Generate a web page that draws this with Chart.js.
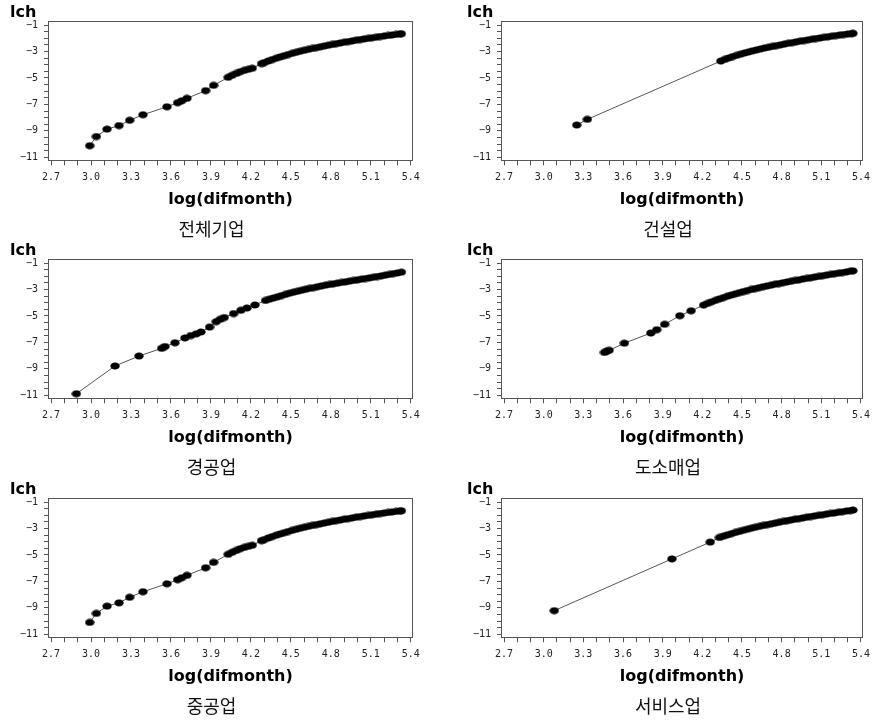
<!DOCTYPE html>
<html><head><meta charset="utf-8">
<script src="https://cdn.jsdelivr.net/npm/chart.js@4.4.1/dist/chart.umd.min.js"></script>
<style>
html,body{margin:0;padding:0;background:#fff;width:876px;height:720px;overflow:hidden;}
canvas{position:absolute;}
</style></head><body>
<canvas id="c0" width="430" height="240" style="left:0px;top:0px"></canvas>
<canvas id="c1" width="427" height="240" style="left:449px;top:0px"></canvas>
<canvas id="c2" width="430" height="240" style="left:0px;top:238px"></canvas>
<canvas id="c3" width="427" height="240" style="left:449px;top:238px"></canvas>
<canvas id="c4" width="430" height="240" style="left:0px;top:477px"></canvas>
<canvas id="c5" width="427" height="240" style="left:449px;top:477px"></canvas>
<script>
// ---------- data ----------
const captions = ['전체기업', '건설업', '경공업', '도소매업', '중공업', '서비스업'];
const xTitle = 'log(difmonth)';
const yTitle = 'lch';
const xTickLabels = ['2.7', '3.0', '3.3', '3.6', '3.9', '4.2', '4.5', '4.8', '5.1', '5.4'];
const yTickLabels = [-1, -3, -5, -7, -9, -11];

// 전체기업 (all firms)
const xAll = [2.99, 3.04, 3.12, 3.21, 3.29, 3.39, 3.57, 3.65, 3.68, 3.72, 3.86, 3.92, 4.03, 4.06, 4.09, 4.12, 4.15, 4.18, 4.21, 4.28,
  4.30, 4.33, 4.36, 4.39, 4.42, 4.45, 4.48, 4.51, 4.54, 4.57, 4.60, 4.63, 4.66, 4.69, 4.72, 4.75, 4.78, 4.81, 4.84, 4.87,
  4.90, 4.93, 4.96, 4.99, 5.02, 5.05, 5.08, 5.11, 5.14, 5.17, 5.20, 5.23, 5.26, 5.29, 5.32, 5.33];
const yAll = [-10.12, -9.43, -8.87, -8.60, -8.20, -7.78, -7.18, -6.87, -6.73, -6.54, -5.96, -5.56, -4.95, -4.80, -4.66, -4.53, -4.43, -4.35, -4.27, -3.92,
  -3.84, -3.72, -3.61, -3.51, -3.41, -3.32, -3.23, -3.14, -3.06, -2.98, -2.91, -2.84, -2.77, -2.71, -2.65, -2.59, -2.53, -2.47, -2.41, -2.36,
  -2.30, -2.25, -2.20, -2.15, -2.10, -2.05, -2.01, -1.96, -1.92, -1.87, -1.83, -1.79, -1.75, -1.71, -1.67, -1.66];

// 건설업 (construction)
const xCons = [3.25, 3.33,
  4.34, 4.37, 4.40, 4.43, 4.46, 4.49, 4.52, 4.55, 4.58, 4.61, 4.64, 4.67, 4.70, 4.73, 4.76, 4.79, 4.82, 4.85, 4.88,
  4.91, 4.94, 4.97, 5.00, 5.03, 5.06, 5.09, 5.12, 5.15, 5.18, 5.21, 5.24, 5.27, 5.30, 5.33, 5.34];
const yCons = [-8.56, -8.13,
  -3.72, -3.60, -3.49, -3.38, -3.29, -3.20, -3.11, -3.03, -2.95, -2.88, -2.81, -2.74, -2.68, -2.62, -2.56, -2.50, -2.44, -2.38, -2.33,
  -2.27, -2.22, -2.17, -2.12, -2.07, -2.02, -1.98, -1.93, -1.89, -1.84, -1.80, -1.76, -1.72, -1.68, -1.64, -1.63];

// 경공업 (light industry)
const xLight = [2.89, 3.18, 3.36, 3.53, 3.555, 3.63, 3.705, 3.75, 3.79, 3.825, 3.89, 3.94, 3.97, 4.00, 4.07, 4.125, 4.17, 4.23,
  4.31, 4.34, 4.37, 4.40, 4.43, 4.46, 4.49, 4.52, 4.55, 4.58, 4.61, 4.64, 4.67, 4.70, 4.73, 4.76, 4.79, 4.82, 4.85, 4.88,
  4.91, 4.94, 4.97, 5.00, 5.03, 5.06, 5.09, 5.12, 5.15, 5.18, 5.21, 5.24, 5.27, 5.30, 5.33];
const yLight = [-10.88, -8.78, -8.03, -7.45, -7.31, -7.03, -6.66, -6.48, -6.35, -6.21, -5.84, -5.43, -5.25, -5.12, -4.82, -4.57, -4.40, -4.17,
  -3.83, -3.73, -3.64, -3.55, -3.46, -3.37, -3.28, -3.20, -3.13, -3.06, -2.99, -2.92, -2.86, -2.79, -2.73, -2.67, -2.62, -2.57, -2.52, -2.47,
  -2.42, -2.37, -2.32, -2.27, -2.22, -2.17, -2.12, -2.07, -2.02, -1.97, -1.91, -1.86, -1.80, -1.75, -1.69];

// 도소매업 (wholesale & retail)
const xTrade = [3.46, 3.475, 3.495, 3.61, 3.81, 3.855, 3.915, 4.03, 4.115,
  4.21, 4.24, 4.27, 4.30, 4.33, 4.36, 4.39, 4.42, 4.45, 4.48, 4.51, 4.54, 4.57, 4.60, 4.63, 4.66, 4.69, 4.72, 4.75, 4.78,
  4.81, 4.84, 4.87, 4.90, 4.93, 4.96, 4.99, 5.02, 5.05, 5.08, 5.11, 5.14, 5.17, 5.20, 5.23, 5.26, 5.29, 5.32, 5.34];
const yTrade = [-7.76, -7.68, -7.60, -7.06, -6.29, -6.04, -5.63, -4.98, -4.61,
  -4.18, -4.05, -3.93, -3.82, -3.71, -3.61, -3.51, -3.42, -3.33, -3.24, -3.16, -3.08, -3.00, -2.93, -2.86, -2.79, -2.73, -2.67, -2.60, -2.55,
  -2.49, -2.43, -2.38, -2.32, -2.27, -2.21, -2.16, -2.11, -2.06, -2.01, -1.96, -1.91, -1.86, -1.81, -1.77, -1.72, -1.67, -1.62, -1.59];

// 중공업 (heavy industry)
const xHeavy = [2.99, 3.04, 3.12, 3.21, 3.29, 3.39, 3.57, 3.65, 3.68, 3.72, 3.86, 3.92, 4.03, 4.06, 4.09, 4.12, 4.15, 4.18, 4.21, 4.28,
  4.30, 4.33, 4.36, 4.39, 4.42, 4.45, 4.48, 4.51, 4.54, 4.57, 4.60, 4.63, 4.66, 4.69, 4.72, 4.75, 4.78, 4.81, 4.84, 4.87,
  4.90, 4.93, 4.96, 4.99, 5.02, 5.05, 5.08, 5.11, 5.14, 5.17, 5.20, 5.23, 5.26, 5.29, 5.32, 5.33];
const yHeavy = [-10.10, -9.42, -8.87, -8.62, -8.20, -7.78, -7.18, -6.87, -6.73, -6.54, -5.97, -5.56, -4.95, -4.80, -4.66, -4.53, -4.43, -4.35, -4.27, -3.92,
  -3.84, -3.72, -3.61, -3.51, -3.41, -3.32, -3.23, -3.14, -3.06, -2.98, -2.91, -2.84, -2.77, -2.71, -2.65, -2.59, -2.53, -2.47, -2.41, -2.36,
  -2.30, -2.25, -2.20, -2.15, -2.10, -2.05, -2.01, -1.96, -1.92, -1.87, -1.83, -1.79, -1.75, -1.71, -1.67, -1.66];

// 서비스업 (services)
const xServ = [3.08, 3.97, 4.26,
  4.33, 4.36, 4.39, 4.42, 4.45, 4.48, 4.51, 4.54, 4.57, 4.60, 4.63, 4.66, 4.69, 4.72, 4.75, 4.78, 4.81, 4.84, 4.87,
  4.90, 4.93, 4.96, 4.99, 5.02, 5.05, 5.08, 5.11, 5.14, 5.17, 5.20, 5.23, 5.26, 5.29, 5.32, 5.34];
const yServ = [-9.21, -5.30, -4.03,
  -3.68, -3.58, -3.48, -3.39, -3.30, -3.22, -3.14, -3.06, -2.98, -2.91, -2.84, -2.77, -2.71, -2.65, -2.59, -2.53, -2.47, -2.41, -2.36,
  -2.30, -2.25, -2.20, -2.15, -2.10, -2.05, -2.00, -1.96, -1.91, -1.86, -1.82, -1.77, -1.73, -1.68, -1.64, -1.61];

const panelX = [xAll, xCons, xLight, xTrade, xHeavy, xServ];
const panelY = [yAll, yCons, yLight, yTrade, yHeavy, yServ];

// ---------- drawing ----------
function makeDot() {
  const c = document.createElement('canvas');
  c.width = 10; c.height = 8;
  const g = c.getContext('2d');
  g.fillStyle = '#000';
  g.beginPath();
  g.ellipse(5, 4, 4.7, 3.5, 0, 0, Math.PI * 2);
  g.fill();
  return c;
}
const dot = makeDot();

const framePlugin = {
  id: 'frame',
  afterDraw(chart) {
    const a = chart.chartArea, ctx = chart.ctx;
    ctx.save();
    ctx.strokeStyle = '#555';
    ctx.lineWidth = 1;
    const l = Math.round(a.left) + 0.5, t = Math.round(a.top) + 0.5;
    const r = Math.round(a.right) - 0.5, b = Math.round(a.bottom) - 0.5;
    ctx.strokeRect(l, t, r - l, b - t);
    ctx.restore();
  }
};

for (let i = 0; i < 6; i++) {
  const isRight = (i % 2) === 1;
  const pts = panelX[i].map((x, k) => ({ x: x, y: panelY[i][k] }));
  new Chart(document.getElementById('c' + i), {
    type: 'scatter',
    data: {
      datasets: [{
        data: pts,
        showLine: true,
        borderColor: '#555',
        borderWidth: 1,
        pointStyle: dot,
        pointRadius: 4,
        pointHoverRadius: 4,
        clip: false
      }]
    },
    options: {
      responsive: false,
      animation: false,
      devicePixelRatio: 1,
      events: [],
      layout: { padding: { left: isRight ? 18 : 10, right: isRight ? 7 : 17, top: 0, bottom: 0 } },
      plugins: {
        legend: { display: false },
        tooltip: { enabled: false },
        title: {
          display: true, text: yTitle, align: 'start', color: '#000',
          font: { family: 'DejaVu Sans', weight: 'bold', size: 16, lineHeight: 1.05 },
          padding: { top: 4, bottom: 0 }
        },
        subtitle: {
          display: true, text: captions[i], position: 'bottom', color: '#111',
          font: { family: 'Noto Sans CJK KR', size: 18, weight: 'normal', lineHeight: 1.15 },
          padding: { top: 0, bottom: 0 }
        }
      },
      scales: {
        x: {
          type: 'linear', position: 'bottom',
          min: 2.677, max: 5.417,
          afterFit(s) { s.height = 58; },
          border: { display: false },
          grid: { drawOnChartArea: false, drawTicks: true, tickLength: 4, color: '#555' },
          ticks: {
            stepSize: 0.1, includeBounds: false, autoSkip: false, maxRotation: 0, minRotation: 0,
            padding: 6, color: '#222',
            font: { family: 'DejaVu Sans Mono', size: 10 },
            callback(v) { const s = Number(v).toFixed(1); return xTickLabels.includes(s) ? s : ''; }
          },
          title: {
            display: true, text: xTitle, color: '#000',
            font: { family: 'DejaVu Sans', weight: 'bold', size: 16 },
            padding: { top: 0, bottom: 10 }
          }
        },
        y: {
          type: 'linear', position: 'left',
          min: -11.3, max: -0.68,
          afterFit(s) { s.width = isRight ? 34 : 38; },
          border: { display: false },
          grid: { drawOnChartArea: false, drawTicks: true, tickLength: 4, color: '#555' },
          ticks: {
            stepSize: 0.5, includeBounds: false, autoSkip: false,
            padding: 6, color: '#222',
            font: { family: 'DejaVu Sans Mono', size: 10 },
            callback(v) {
              const n = Math.round(v * 2) / 2;
              return yTickLabels.includes(n) ? '\u2212' + Math.abs(n) : '';
            }
          }
        }
      }
    },
    plugins: [framePlugin]
  });
}
</script>
</body></html>
